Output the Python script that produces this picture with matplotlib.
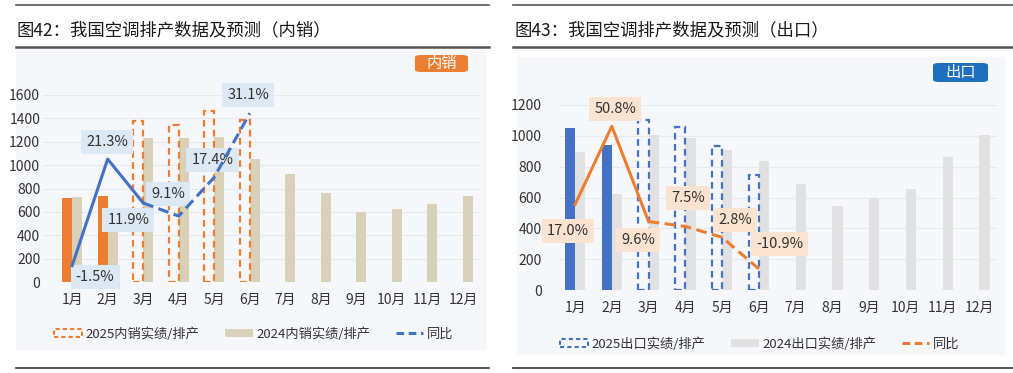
import matplotlib
matplotlib.use("Agg")
import matplotlib.pyplot as plt
from matplotlib.patches import Rectangle, FancyBboxPatch
from matplotlib.lines import Line2D
import numpy as np

plt.rcParams['font.family'] = ['Noto Sans CJK SC', 'DejaVu Sans']

months = ['1月', '2月', '3月', '4月', '5月', '6月', '7月', '8月', '9月', '10月', '11月', '12月']

# 内销 (domestic)
dom_2025 = [720, 735, 1380, 1340, 1460, 1385]
dom_2024 = [730, 606, 1233, 1228, 1243, 1056, 922, 760, 603, 623, 666, 732]
dom_yoy = [-1.5, 21.3, 11.9, 9.1, 17.4, 31.1]
dom_actual = 2  # first two months are actual data

# 出口 (export)
exp_2025 = [1050, 940, 1105, 1060, 935, 745]
exp_2024 = [895, 620, 1006, 985, 909, 837, 685, 545, 600, 655, 860, 1005]
exp_yoy = [17.0, 50.8, 9.6, 7.5, 2.8, -10.9]
exp_actual = 2

# label anchors (x in month index, y in left-axis units)
dom_lab_pos = [(0.65, 43), (0.99, 1198), (1.58, 530), (2.71, 753), (3.95, 1043), (4.96, 1600)]
exp_lab_pos = [(1.09, 1174), (-0.19, 383), (1.71, 324), (3.07, 597), (4.35, 454), (5.57, 298)]
exp_lab_order = [1, 0, 2, 3, 4, 5]

W, H = 1013, 373
fig = plt.figure(figsize=(W / 100, H / 100), dpi=100)


def fx(px):
    return px / W


def fy(py):
    return 1 - py / H


def hline(x0, x1, y, lw, color='#555555'):
    fig.add_artist(Line2D([fx(x0), fx(x1)], [fy(y), fy(y)], lw=lw, color=color,
                          transform=fig.transFigure))


# panel frames
for (x0, x1, bx0, bx1, by0, by1, title) in [
        (16, 489, 16, 485, 49, 349, '图42：我国空调排产数据及预测（内销）'),
        (513, 1013, 517, 1004, 57, 354, '图43：我国空调排产数据及预测（出口）')]:
    hline(x0, x1, 5, 1.2)
    hline(x0, x1, 47, 1.8)
    hline(x0, x1, 368, 1.2, '#333333')
    fig.add_artist(Rectangle((fx(bx0), fy(by1)), fx(bx1 - bx0), (by1 - by0) / H,
                             transform=fig.transFigure, color='#f5f7fb', zorder=0))
    fig.text(fx(x0 + 1), fy(30), title, fontsize=12.5, color='#1a1a1a', va='center', ha='left',
             fontweight='medium')

C_OR = '#ed7d31'
C_BL = '#4472c4'
C_BEIGE = '#d8d1b8'
C_GRAY = '#e1e1e1'
bw = 0.28


def draw(ax, v25, v24, yoy, nact, c25, c24, lc, ylim, y2lim, labpos, order, labbg, pad):
    x = np.arange(12)
    ax.set_facecolor('none')
    ax.bar(x + bw / 2, v24, width=bw, color=c24, zorder=2)
    x25 = np.arange(len(v25))
    ax.bar(x25[:nact] - bw / 2, v25[:nact], width=bw, color=c25, zorder=3)
    ax.bar(x25[nact:] - bw / 2, v25[nact:], width=bw, facecolor='none', edgecolor=c25,
           linestyle=(0, (3, 2)), linewidth=1.6, zorder=3)
    ax.set_ylim(*ylim)
    ax.set_xlim(-0.82 if pad == 2 else -0.41, 11.48)
    ax.set_yticks(np.arange(0, ylim[1] + 1, 200))
    ax.set_xticks(x)
    ax.set_xticklabels(months)
    ax.tick_params(length=0, labelsize=10, colors='#333333')
    ax.tick_params(axis='y', pad=pad)
    ax.tick_params(axis='x', pad=8)
    ax.grid(axis='y', color='#e6e9ee', lw=0.8, zorder=0)
    ax.set_axisbelow(True)
    for s in ax.spines.values():
        s.set_visible(False)

    ax2 = ax.twinx()
    ax2.set_ylim(*y2lim)
    ax2.axis('off')
    ax2.plot(x25[:nact + 1], yoy[:nact + 1], color=lc, lw=2.2, zorder=4)
    ax2.plot(x25[nact:], yoy[nact:], color=lc, lw=2.2, linestyle=(0, (3.5, 1.8)), zorder=4)

    for k, (lx, ly) in zip(order, labpos):
        ax.text(lx, ly, f'{yoy[k]:.1f}%', fontsize=10.5, color='#333333', ha='center', va='center',
                zorder=6, bbox=dict(boxstyle='square,pad=0.35', fc=labbg, ec='none'))
    return ax2


axL = fig.add_axes([fx(43), fy(282), fx(437), 187 / H])
draw(axL, dom_2025, dom_2024, dom_yoy, dom_actual, C_OR, C_BEIGE, C_BL,
     (0, 1600), (-5, 35), dom_lab_pos, range(6), '#dce8f3', 2)

axR = fig.add_axes([fx(560), fy(290), fx(437), 185 / H])
draw(axR, exp_2025, exp_2024, exp_yoy, exp_actual, C_BL, C_GRAY, C_OR,
     (0, 1200), (-20, 60), exp_lab_pos, exp_lab_order, '#fbe3d2', 13)

# tag boxes
for (x0, y0, x1, y1, col, txt) in [(415, 55, 468, 72, C_OR, '内销'), (933, 63, 988, 82, '#1f6fc0', '出口')]:
    fig.add_artist(FancyBboxPatch((fx(x0), fy(y1)), fx(x1 - x0), (y1 - y0) / H,
                                  boxstyle='round,pad=0,rounding_size=0.006',
                                  transform=fig.transFigure, fc=col, ec='none'))
    fig.text(fx((x0 + x1) / 2), fy((y0 + y1) / 2), txt, color='white', fontsize=11,
             ha='center', va='center')


def legend(ax, cx, cy, c25, c24, lc, name):
    handles = [
        Rectangle((0, 0), 1, 1, facecolor='none', edgecolor=c25, linestyle=(0, (2, 1.5)), lw=1.5),
        Rectangle((0, 0), 1, 1, facecolor=c24, edgecolor='none'),
        Line2D([0], [0], color=lc, lw=2.2, linestyle=(0, (2.5, 1.5))),
    ]
    labels = [f'2025{name}实绩/排产', f'2024{name}实绩/排产', '同比']
    ax.legend(handles, labels, loc='center', bbox_to_anchor=(fx(cx), fy(cy)),
              bbox_transform=fig.transFigure, ncol=3, frameon=False, fontsize=9.5,
              handlelength=2.1, handleheight=0.6, handletextpad=0.3, columnspacing=1.9,
              labelcolor='#333333')


legend(axL, 254, 334, C_OR, C_BEIGE, C_BL, '内销')
legend(axR, 760, 344, C_BL, C_GRAY, C_OR, '出口')

fig.savefig('out.png', dpi=100)
